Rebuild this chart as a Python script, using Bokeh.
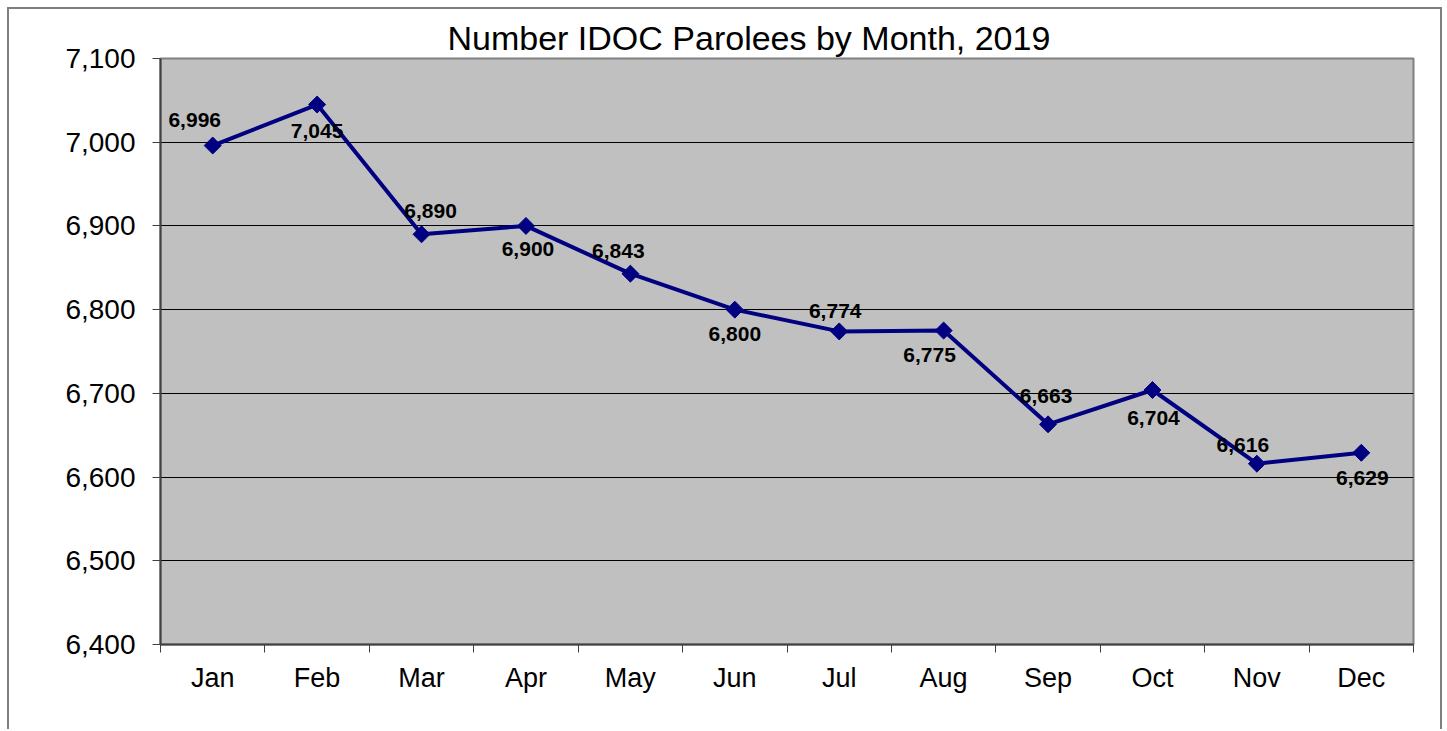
import math
from bokeh.plotting import figure
from bokeh.models import Range1d, FixedTicker, NumeralTickFormatter, ColumnDataSource
from bokeh.core.properties import value
from bokeh.embed import file_html
from bokeh.resources import INLINE

# ---- data ----
months = ["Jan", "Feb", "Mar", "Apr", "May", "Jun", "Jul", "Aug", "Sep", "Oct", "Nov", "Dec"]
parolees = [6996, 7045, 6890, 6900, 6843, 6800, 6774, 6775, 6663, 6704, 6616, 6629]
value_labels = ["6,996", "7,045", "6,890", "6,900", "6,843", "6,800", "6,774", "6,775", "6,663", "6,704", "6,616", "6,629"]
y_ticks = [6400, 6500, 6600, 6700, 6800, 6900, 7000, 7100]
title_text = "Number IDOC Parolees by Month, 2019"

# label placement (screen px offsets, style only)
lab_dx = [-18, 0, 9, 2, -12, 0, -4, -14, -2, 1, -14, 1]
lab_dy = [-26, 26, -23, 23, -23, 24, -20, 24, -28, 28, -19, 25]

FONT = "Liberation Sans"
xs = [i + 0.5 for i in range(len(months))]

p = figure(width=1435, height=722, output_backend="svg", toolbar_location=None,
           x_range=Range1d(0, len(months)), y_range=Range1d(y_ticks[0], y_ticks[-1]),
           min_border_left=151, min_border_right=31, min_border_top=49, min_border_bottom=87)
p.styles = {"border-left": "2px solid #7f7f7f", "border-top": "2px solid #7f7f7f",
            "border-right": "2px solid #7f7f7f", "box-sizing": "border-box",
            "margin-left": "7px", "margin-top": "7px"}
p.background_fill_color = "#C0C0C0"
p.border_fill_color = "white"
p.outline_line_color = "#808080"
p.outline_line_width = 2

p.title.text = title_text
p.title.align = "left"
p.title.offset = 287
p.title.standoff = 4
p.title.text_font = FONT
p.title.text_font_size = "34px"
p.title.text_font_style = "normal"
p.title.text_color = "black"

# x axis
xa = p.xaxis[0]
xa.ticker = FixedTicker(ticks=xs, minor_ticks=list(range(len(months) + 1)))
xa.major_label_overrides = {x: m for x, m in zip(xs, months)}
xa.major_tick_out = 0
xa.major_tick_in = 0
xa.minor_tick_out = 8
xa.minor_tick_in = 0
xa.minor_tick_line_color = "#404040"
xa.axis_line_color = "#404040"
xa.axis_line_width = 2
xa.major_label_text_font = FONT
xa.major_label_text_font_size = "27px"
xa.major_label_text_color = "black"
xa.major_label_standoff = 10

# y axis
ya = p.yaxis[0]
ya.ticker = FixedTicker(ticks=y_ticks)
ya.formatter = NumeralTickFormatter(format="0,0")
ya.major_tick_out = 8
ya.major_tick_in = 0
ya.minor_tick_out = 0
ya.minor_tick_in = 0
ya.major_tick_line_color = "#404040"
ya.axis_line_color = "#404040"
ya.axis_line_width = 2
ya.major_label_text_font = FONT
ya.major_label_text_font_size = "28px"
ya.major_label_text_color = "black"
ya.major_label_standoff = 17

p.xgrid.visible = False
p.ygrid.ticker = FixedTicker(ticks=y_ticks)
p.ygrid.grid_line_color = "black"
p.ygrid.grid_line_width = 1

src = ColumnDataSource(dict(x=xs, y=parolees, lab=value_labels, dx=lab_dx, dy=lab_dy))
p.line("x", "y", source=src, line_color="#000080", line_width=4)
p.scatter("x", "y", source=src, marker="square", size=12, angle=math.pi / 4,
          fill_color="#000080", line_color="#000080")
p.text("x", "y", text="lab", source=src, x_offset="dx", y_offset="dy",
       text_font=value(FONT), text_font_style="bold", text_font_size="21px",
       text_align="center", text_baseline="middle", text_color="black")

open("out.html", "w").write(file_html(p, INLINE))
